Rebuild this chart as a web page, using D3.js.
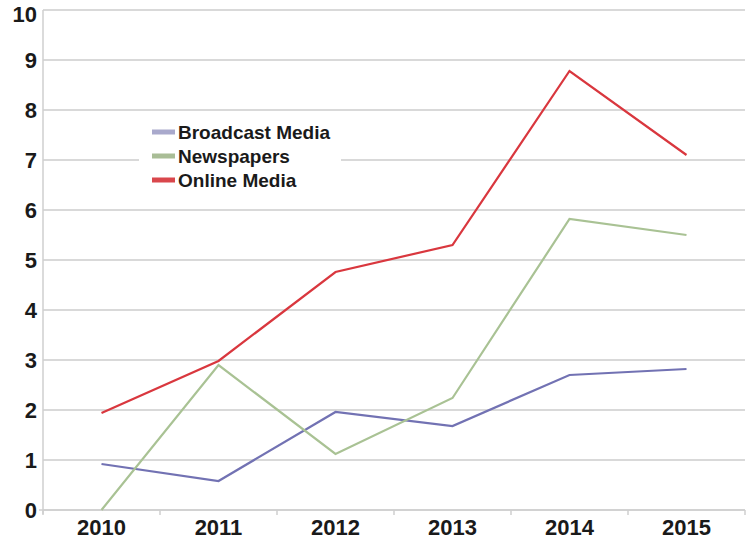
<!DOCTYPE html>
<html>
<head>
<meta charset="utf-8">
<script src="https://cdn.jsdelivr.net/npm/d3@7"></script>
<style>
body { margin: 0; background: #fff; }
svg text { font-family: "Liberation Sans", Arial, sans-serif; font-weight: bold; fill: #1a1a1a; }
</style>
</head>
<body>
<svg id="chart" width="748" height="540"></svg>
<script>
const years = ["2010", "2011", "2012", "2013", "2014", "2015"];
const broadcast = [0.92, 0.58, 1.96, 1.68, 2.7, 2.82];
const newspapers = [0, 2.9, 1.12, 2.24, 5.82, 5.5];
const online = [1.94, 2.98, 4.76, 5.3, 8.78, 7.1];
const seriesNames = ["Broadcast Media", "Newspapers", "Online Media"];
const yTicks = [0, 1, 2, 3, 4, 5, 6, 7, 8, 9, 10];

const lineColors = ["#7272b3", "#a9c294", "#d9373e"];
const swatchColors = ["#a9a9cc", "#a9bd96", "#d9474c"];

const svg = d3.select("#chart");
const padL = 43, padR = 745, padT = 10, padB = 510;

const x = d3.scaleBand().domain(years).range([padL, padR]);
const y = d3.scaleLinear().domain([0, 10]).range([padB, padT]);

// gridlines
svg.append("g").selectAll("line").data(yTicks).join("line")
  .attr("x1", padL).attr("x2", padR)
  .attr("y1", d => y(d)).attr("y2", d => y(d))
  .attr("stroke", "#d9d9d9").attr("stroke-width", 2);

// y axis line
svg.append("line").attr("x1", padL).attr("x2", padL).attr("y1", padT).attr("y2", padB + 4)
  .attr("stroke", "#cfcfcf").attr("stroke-width", 1.5);

// y labels (top one sits a little lower, as in the original)
svg.append("g").selectAll("text").data(yTicks).join("text")
  .attr("x", 37).attr("y", d => y(d) + (d === 10 ? 12 : 8))
  .attr("text-anchor", "end").attr("font-size", 22)
  .text(d => d);

// x axis line + ticks at band edges
svg.append("line").attr("x1", padL - 4).attr("x2", padR).attr("y1", padB).attr("y2", padB)
  .attr("stroke", "#cfcfcf").attr("stroke-width", 1.5);
const edges = years.map(d => x(d)).concat([padR]);
svg.append("g").selectAll("line").data(edges).join("line")
  .attr("x1", d => d).attr("x2", d => d).attr("y1", padB).attr("y2", padB + 5)
  .attr("stroke", "#cfcfcf").attr("stroke-width", 1.5);

svg.append("g").selectAll("text").data(years).join("text")
  .attr("x", d => x(d) + x.bandwidth() / 2).attr("y", 535)
  .attr("text-anchor", "middle").attr("font-size", 22)
  .text(d => d);

// legend box (covers gridlines)
svg.append("rect").attr("x", 139).attr("y", 116).attr("width", 202).attr("height", 78).attr("fill", "#fff");

// lines
const line = d3.line().x((d, i) => x(years[i]) + x.bandwidth() / 2).y(d => y(d));
[broadcast, newspapers, online].forEach((s, i) => {
  svg.append("path").datum(s).attr("d", line)
    .attr("fill", "none").attr("stroke", lineColors[i]).attr("stroke-width", 2.2)
    .attr("stroke-linejoin", "miter");
});

// legend
const lg = svg.append("g").selectAll("g").data(seriesNames).join("g")
  .attr("transform", (d, i) => `translate(152, ${132 + i * 24})`);
lg.append("rect").attr("x", 0).attr("y", -2.5).attr("width", 23).attr("height", 5)
  .attr("fill", (d, i) => swatchColors[i]);
lg.append("text").attr("x", 26).attr("y", 7).attr("font-size", 19).text(d => d);
</script>
</body>
</html>
